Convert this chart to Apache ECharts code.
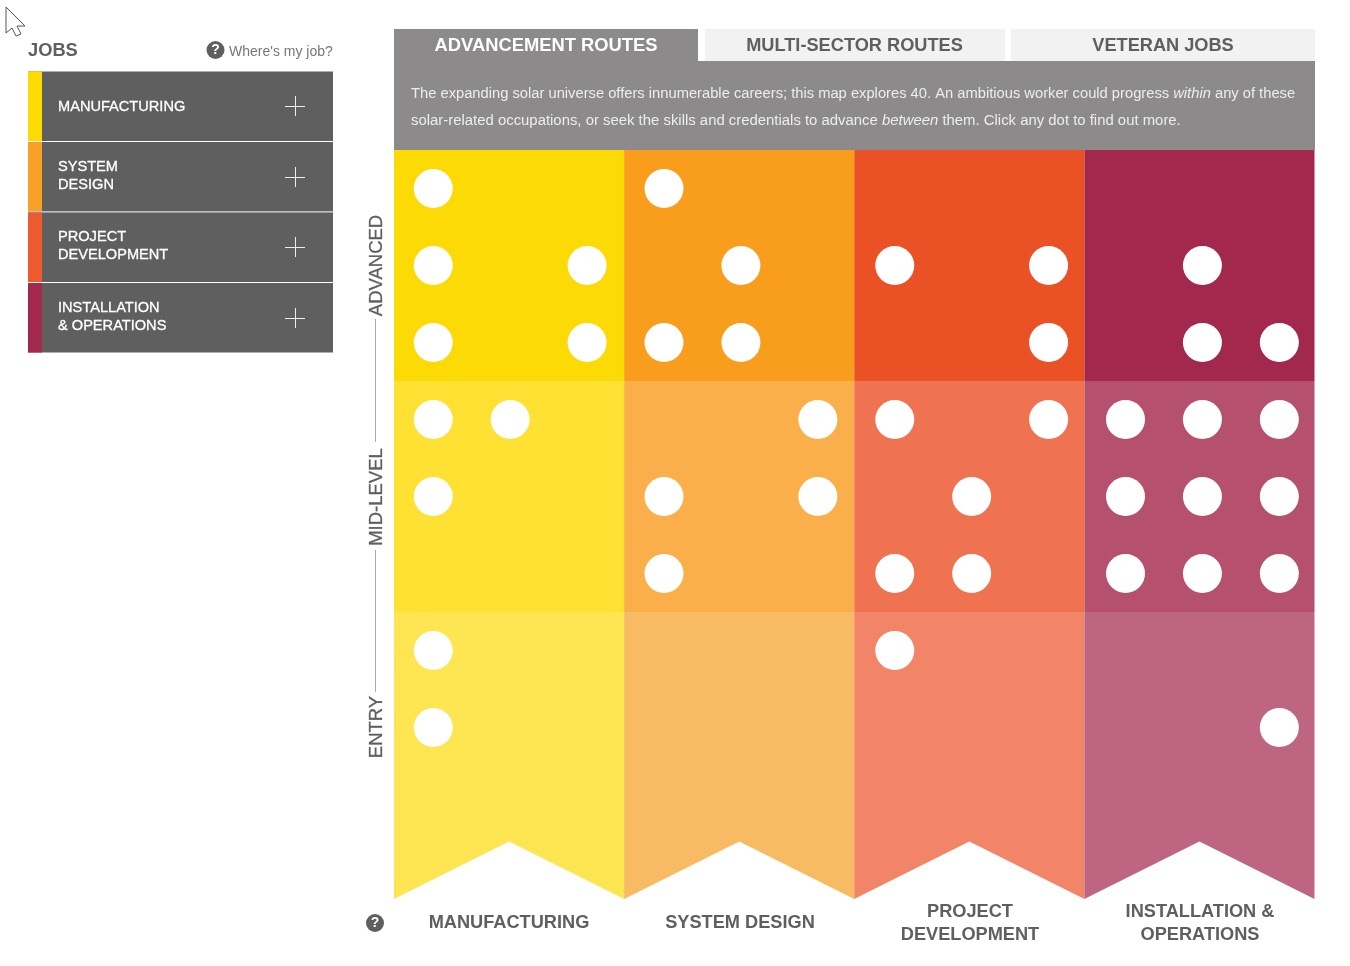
<!DOCTYPE html>
<html>
<head>
<meta charset="utf-8">
<title>Solar jobs map</title>
<script src="https://cdn.jsdelivr.net/npm/echarts@6/dist/echarts.min.js"></script>
<style>
html,body{margin:0;padding:0;background:#fff;}
#main{width:1350px;height:966px;}
</style>
</head>
<body>
<div id="main"></div>
<script>
//sectors and levels
var sectorNames=["MANUFACTURING", "SYSTEM DESIGN", "PROJECT\nDEVELOPMENT", "INSTALLATION &\nOPERATIONS"];
var jobListNames=["MANUFACTURING", "SYSTEM\nDESIGN", "PROJECT\nDEVELOPMENT", "INSTALLATION\n& OPERATIONS"];
var levelNames=["ADVANCED", "MID-LEVEL", "ENTRY"];
var tabNames=["ADVANCEMENT ROUTES", "MULTI-SECTOR ROUTES", "VETERAN JOBS"];

//one dot per job: [column 0-11, row 0-8]
var manufacturingDots=[[0,0],[0,1],[2,1],[0,2],[2,2],[0,3],[1,3],[0,4],[0,6],[0,7]];
var systemDesignDots=[[3,0],[4,1],[3,2],[4,2],[5,3],[3,4],[5,4],[3,5]];
var projectDevDots=[[6,1],[8,1],[8,2],[6,3],[8,3],[7,4],[6,5],[7,5],[6,6]];
var installationDots=[[10,1],[10,2],[11,2],[9,3],[10,3],[11,3],[9,4],[10,4],[11,4],[9,5],[10,5],[11,5],[11,7]];

//cell colours, one row per level
var bandColors=[
	['#FCDA05','#F99D1C','#EA5124','#A2284D'],
	['#FEE133','#FAAF4A','#EF7350','#B5516F'],
	['#FEE552','#F8BA62','#F28568','#BE6681']
];
var sideColors=['#FDDB00','#F9A126','#EC5A2E','#A2284D'];

var FONT='"Liberation Sans", Arial, sans-serif';
var DARK='#5F5F5F';
var PANEL='#8D8A8B';

function label(text,x,y,size,color,align,weight,extra){
	var el={
		type:'text', x:x, y:y, silent:true,
		style:{text:text, fontFamily:FONT, fontSize:size, fontWeight:weight||'normal', fill:color,
			align:align||'left', verticalAlign:'middle', lineHeight:extra&&extra.lineHeight||undefined}
	};
	if(extra&&extra.rotation){ el.rotation=extra.rotation; }
	if(extra&&extra.rich){ el.style.rich=extra.rich; }
	if(extra&&extra.heavy){ el.style.stroke=color; el.style.lineWidth=extra.heavy; }
	return el;
}
function box(x,y,w,h,color){
	return {type:'rect', silent:true, shape:{x:x,y:y,width:w,height:h}, style:{fill:color}};
}
function helpIcon(x,y){
	return [
		{type:'circle', silent:true, shape:{cx:x,cy:y,r:9}, style:{fill:DARK}},
		label('?',x,y+0.5,14,'#fff','center','bold')
	];
}

function buildGraphic(){
	var g=[];
	var rowTops=[71.5,142,212.5,283];
	var plusYs=[106,177,247,318];
	var nameYs=[106.5,176,246,317];

	//mouse cursor
	g.push({type:'polyline', silent:true,
		shape:{points:[[6,7],[6,33],[12,28],[16,36],[21,34],[17,26],[25,26],[6,7]]},
		style:{fill:'#fff',stroke:'#555',lineWidth:1}});

	//left job list
	g.push(label('JOBS',28,51,18.3,DARK,'left','bold'));
	g=g.concat(helpIcon(215.5,50));
	g.push(label("Where's my job?",229,52,14,'#777','left'));
	g.push(box(28,211,305,1.5,'#BDBDBD'));
	jobListNames.forEach(function(name,i){
		g.push(box(28,rowTops[i],305,i==1?69:69.5,DARK));
		g.push(box(28,rowTops[i],14,i==1?69:69.5,sideColors[i]));
		g.push(label(name,58,nameYs[i],14.6,'#fff','left','normal',{lineHeight:18,heavy:0.3}));
		g.push({type:'line',silent:true,shape:{x1:285,y1:plusYs[i]+0.5,x2:305,y2:plusYs[i]+0.5},style:{stroke:'#eee',lineWidth:1}});
		g.push({type:'line',silent:true,shape:{x1:295.5,y1:plusYs[i]-10,x2:295.5,y2:plusYs[i]+10},style:{stroke:'#eee',lineWidth:1}});
	});

	//tabs
	g.push(box(394,29,304,33,PANEL));
	g.push(box(705,29,300,32,'#F2F2F2'));
	g.push(box(1011,29,304,32,'#F2F2F2'));
	g.push(label(tabNames[0],546,46,18.35,'#fff','center','bold'));
	g.push(label(tabNames[1],854.5,46,18.2,DARK,'center','bold'));
	g.push(label(tabNames[2],1163,46,18.2,DARK,'center','bold'));

	//intro panel
	g.push(box(394,61,921,89,PANEL));
	var introRich={i:{fontStyle:'italic',fontFamily:FONT,fontSize:14.72,fill:'#EDEDED'}};
	var introRich2={i:{fontStyle:'italic',fontFamily:FONT,fontSize:14.9,fill:'#EDEDED'}};
	g.push(label('The expanding solar universe offers innumerable careers; this map explores 40. An ambitious worker could progress {i|within} any of these',411,94,14.72,'#EDEDED','left','normal',{rich:introRich}));
	g.push(label('solar-related occupations, or seek the skills and credentials to advance {i|between} them. Click any dot to find out more.',411,121,14.9,'#EDEDED','left','normal',{rich:introRich2}));

	//level axis on the left
	var levelYs=[265.5,497,727];
	levelNames.forEach(function(name,i){
		g.push(label(name,376.5,levelYs[i],18.5,DARK,'center','normal',{rotation:Math.PI/2,heavy:0.3}));
	});
	g.push({type:'line',silent:true,shape:{x1:375.5,y1:319,x2:375.5,y2:442},style:{stroke:'#aaa',lineWidth:1}});
	g.push({type:'line',silent:true,shape:{x1:375.5,y1:550,x2:375.5,y2:692},style:{stroke:'#aaa',lineWidth:1}});

	//sector names under the map
	var sectorXs=[509,740,970,1200];
	sectorNames.forEach(function(name,i){
		g.push(label(name,sectorXs[i],923,18.2,DARK,'center','bold',{lineHeight:23}));
	});
	g=g.concat(helpIcon(375,923));
	return g;
}

//cells of the map, level 2 ends in the chevron
var bandData=[];
levelNames.forEach(function(n,level){
	sectorNames.forEach(function(s,sector){ bandData.push([sector,level]); });
});
function renderBand(params,api){
	var sector=api.value(0), level=api.value(1);
	var x0=sector*3, x1=x0+3, y0=level*3, pts;
	if(level<2){
		pts=[[x0,y0],[x1,y0],[x1,y0+3],[x0,y0+3]];
	}else{
		pts=[[x0,y0],[x1,y0],[x1,9.727],[x0+1.5,8.98],[x0,9.727]];
	}
	return {
		type:'polygon',
		shape:{points:pts.map(function(p){ return api.coord(p); })},
		style:{fill:bandColors[level][sector]}
	};
}

function dotSeries(name,data){
	return {
		name:name, type:'scatter', xAxisIndex:1, yAxisIndex:1, data:data,
		symbol:'circle', symbolSize:39, z:5,
		itemStyle:{color:'#fff',opacity:1}, silent:true
	};
}

var myChart=echarts.init(document.getElementById('main'),null,{renderer:'canvas'});
var option={
	animation:false,
	backgroundColor:'#fff',
	grid:[
		{left:394,top:150,width:920.5,height:749},
		{left:394.8,top:150,width:923,height:693}
	],
	xAxis:[
		{type:'value',gridIndex:0,min:0,max:12,show:false},
		{type:'value',gridIndex:1,min:-0.5,max:11.5,show:false}
	],
	yAxis:[
		{type:'value',gridIndex:0,min:0,max:9.727,inverse:true,show:false},
		{type:'value',gridIndex:1,min:-0.5,max:8.5,inverse:true,show:false}
	],
	series:[
		{type:'custom',xAxisIndex:0,yAxisIndex:0,data:bandData,renderItem:renderBand,silent:true,z:1,clip:false},
		dotSeries('Manufacturing',manufacturingDots),
		dotSeries('System design',systemDesignDots),
		dotSeries('Project development',projectDevDots),
		dotSeries('Installation & operations',installationDots)
	],
	graphic:{elements:buildGraphic()}
};
myChart.setOption(option);
</script>
</body>
</html>
